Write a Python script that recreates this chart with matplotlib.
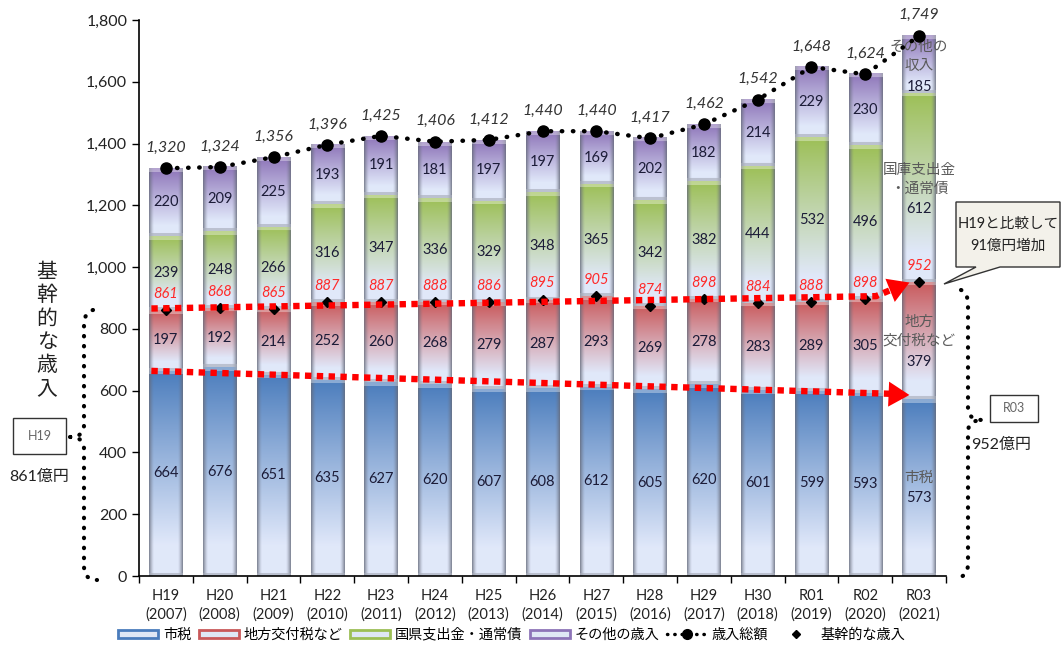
import numpy as np
import matplotlib
matplotlib.use("Agg")
import matplotlib.pyplot as plt
from matplotlib.lines import Line2D
from matplotlib.patches import Patch, Rectangle, Polygon

plt.rcParams['font.family'] = ['Lato', 'Noto Sans CJK JP', 'DejaVu Sans']

# ---- data (億円) ----
eras = ['H19', 'H20', 'H21', 'H22', 'H23', 'H24', 'H25', 'H26', 'H27', 'H28',
        'H29', 'H30', 'R01', 'R02', 'R03']
years = ['2007', '2008', '2009', '2010', '2011', '2012', '2013', '2014', '2015',
         '2016', '2017', '2018', '2019', '2020', '2021']
city_tax = [664, 676, 651, 635, 627, 620, 607, 608, 612, 605, 620, 601, 599, 593, 573]
local_alloc = [197, 192, 214, 252, 260, 268, 279, 287, 293, 269, 278, 283, 289, 305, 379]
subsidies = [239, 248, 266, 316, 347, 336, 329, 348, 365, 342, 382, 444, 532, 496, 612]
other_rev = [220, 209, 225, 193, 191, 181, 197, 197, 169, 202, 182, 214, 229, 230, 185]
total_rev = [1320, 1324, 1356, 1396, 1425, 1406, 1412, 1440, 1440, 1417, 1462, 1542,
             1648, 1624, 1749]
core_rev = [861, 868, 865, 887, 887, 888, 886, 895, 905, 874, 898, 884, 888, 898, 952]

series = [city_tax, local_alloc, subsidies, other_rev]
series_names = ['市税', '地方交付税など', '国県支出金・通常債', 'その他の歳入']
base_colors = ['#4a7cbc', '#c9585a', '#9cbf55', '#8d74b8']

W, H, DPI = 1061, 645, 100
fig = plt.figure(figsize=(W / DPI, H / DPI), dpi=DPI)
fig.patch.set_facecolor('white')
ax = fig.add_axes([139 / W, 1 - 576 / H, (946 - 139) / W, (576 - 20) / H])

YMAX = 1800
px_per_unit = 556 / YMAX
bar_w = 0.62
light = np.array([0.88, 0.91, 0.98])
edge_gray = np.array([0.40, 0.42, 0.48])


def segment_image(color, height_px, cols=36):
    rows = max(int(round(height_px)), 3)
    base = np.array(matplotlib.colors.to_rgb(color))
    t = np.linspace(0, 1, rows)[:, None, None]
    f = np.clip(t / 0.85, 0, 1) ** 0.95
    img = base[None, None, :] * (1 - f) + light[None, None, :] * f
    img = np.repeat(img, cols, axis=1)
    x = np.linspace(0, 1, cols)
    d = np.minimum(x, 1 - x)
    e = (np.clip(1 - d / 0.14, 0, 1) ** 1.4)[None, :, None] * 0.75
    img = img * (1 - e) + edge_gray[None, None, :] * e
    # bevel highlight on top, thin separator at bottom
    img[:4] = img[:4] * 0.65 + np.array([1, 1, 1]) * 0.35
    img[-3:] = img[-3:] * 0.35 + np.array([0.66, 0.68, 0.73]) * 0.65
    return np.clip(img, 0, 1)


n = len(eras)
xs = np.arange(n)
bottoms = np.zeros(n)
for vals, col in zip(series, base_colors):
    for i in range(n):
        b, v = bottoms[i], vals[i]
        img = segment_image(col, v * px_per_unit)
        ax.imshow(img, extent=[i - bar_w / 2, i + bar_w / 2, b, b + v],
                  aspect='auto', interpolation='bilinear', zorder=2)
    bottoms += np.array(vals)

# value labels inside segments
label_kw = dict(ha='center', va='center', fontsize=10.5, color='#1c1c38', zorder=5)
bottoms = np.zeros(n)
for vals in series:
    for i in range(n - 1):
        ax.text(i, bottoms[i] + vals[i] / 2, f'{vals[i]}', **label_kw)
    bottoms += np.array(vals)

# last bar: category captions with values
cap_kw = dict(ha='center', va='center', fontsize=10.5, color='#5a5a5a', zorder=6)
last = n - 1
ax.text(last, 1712, 'その他の', **cap_kw)
ax.text(last, 1650, '収入', **cap_kw)
ax.text(last, 1584, f'{other_rev[last]}', **label_kw)
ax.text(last, 1314, '国庫支出金', **cap_kw)
ax.text(last, 1252, '・通常債', **cap_kw)
ax.text(last, 1188, f'{subsidies[last]}', **label_kw)
ax.text(last, 822, '地方', **cap_kw)
ax.text(last, 762, '交付税など', **cap_kw)
ax.text(last, 694, f'{local_alloc[last]}', **label_kw)
ax.text(last, 318, '市税', **cap_kw)
ax.text(last, 254, f'{city_tax[last]}', **label_kw)

# total revenue line
ax.plot(xs, total_rev, color='black', lw=3.2, ls=(0, (0.1, 2.4)),
        dash_capstyle='round', zorder=6)
ax.plot(xs, total_rev, 'o', color='black', ms=8, zorder=7)
for i, v in enumerate(total_rev):
    ax.text(i, v + 66, f'{v:,}', ha='center', va='center', fontsize=11.5,
            style='italic', color='#333333', zorder=7)

# core revenue markers and labels
ax.plot(xs, core_rev, 'D', color='black', ms=5, zorder=7)
for i, v in enumerate(core_rev):
    ax.text(i, v + 52, f'{v}', ha='center', va='center', fontsize=10.5,
            style='italic', color='#ff2a2a', zorder=7)

# red trend arrows
red_kw = dict(color='#ff0000', lw=4.6, ls=(0, (1.0, 0.85)), dash_capstyle='butt',
              zorder=8, solid_capstyle='butt')
head = dict(arrowstyle='-|>,head_length=0.75,head_width=0.45', color='#ff0000',
            lw=0, mutation_scale=20, shrinkA=0, shrinkB=0)
ax.plot([-0.27, 13.2, 13.5], [866, 906, 928], **red_kw)
ax.annotate('', xy=(13.82, 950), xytext=(13.45, 924), arrowprops=head, zorder=9)
ax.plot([-0.27, 13.45], [664, 590], **red_kw)
ax.annotate('', xy=(13.82, 586), xytext=(13.4, 589), arrowprops=head, zorder=9)

# axes styling
ax.set_xlim(-0.5, n - 0.5)
ax.set_ylim(0, YMAX)
ax.set_yticks(np.arange(0, YMAX + 1, 200))
ax.set_yticklabels([f'{v:,}' for v in range(0, YMAX + 1, 200)], fontsize=11.5,
                   color='#222222')
ax.set_xticks(xs)
ax.set_xticklabels([f'{e}\n({y})' for e, y in zip(eras, years)], fontsize=10.5,
                   color='#222222', linespacing=1.45)
ax.set_xticks(np.arange(-0.5, n, 1.0), minor=True)
ax.tick_params(axis='x', which='major', length=0, pad=9)
ax.tick_params(axis='x', which='minor', length=5, width=1, direction='out')
ax.tick_params(axis='y', length=5, width=1, direction='out')
for s in ['top', 'right']:
    ax.spines[s].set_visible(False)
for s in ['left', 'bottom']:
    ax.spines[s].set_linewidth(1.2)
    ax.spines[s].set_color('black')

# legend
handles = [Patch(facecolor='#dfe7f5', edgecolor=c, lw=2) for c in base_colors]
handles += [Line2D([], [], color='black', lw=2.5, ls=(0, (0.1, 2)),
                   dash_capstyle='round', marker='o', ms=7),
            Line2D([], [], color='black', ls='none', marker='D', ms=4.5)]
labels = series_names + ['歳入総額', '基幹的な歳入']
fig.legend(handles, labels, loc='center', bbox_to_anchor=(512 / W, 1 - 634 / H),
           ncol=6, frameon=False, fontsize=10.2, handlelength=2.8, handleheight=0.55,
           handletextpad=0.35, columnspacing=0.55, numpoints=1)

# annotations around the plot area (pixel coordinates)
ov = fig.add_axes([0, 0, 1, 1], zorder=5)
ov.set_xlim(0, W)
ov.set_ylim(H, 0)
ov.set_axis_off()
ov.patch.set_alpha(0)


def quad(p0, c, p1, k=20):
    t = np.linspace(0, 1, k)[:, None]
    p0, c, p1 = map(np.array, (p0, c, p1))
    return (1 - t) ** 2 * p0 + 2 * (1 - t) * t * c + t ** 2 * p1


def brace(top, x, tip, bottom, tip_y):
    pts = [quad(top, (x, top[1] + 2), (x, top[1] + 16)),
           np.array([[x, top[1] + 16], [x, tip_y - 12]]),
           quad((x, tip_y - 12), (x, tip_y), tip),
           quad(tip, (x, tip_y), (x, tip_y + 12)),
           np.array([[x, tip_y + 12], [x, bottom[1] - 14]]),
           quad((x, bottom[1] - 14), (x, bottom[1]), bottom)]
    return np.vstack(pts)


dot_kw = dict(color='black', lw=3.0, ls=(0, (0.1, 2.3)), dash_capstyle='round')
lb = brace((93, 310), 84, (70, 437), (97, 580), 437)
ov.plot(lb[:, 0], lb[:, 1], **dot_kw)
rb = brace((961, 290), 968, (983, 420), (958, 577), 420)
ov.plot(rb[:, 0], rb[:, 1], **dot_kw)

for i, ch in enumerate('基幹的な歳入'):
    ov.text(47, 272 + i * 23.2, ch, ha='center', va='center', fontsize=15,
            color='#222222')

ov.add_patch(Rectangle((13, 418), 53, 36, fill=False, ec='#333333', lw=1))
ov.text(39.5, 436, 'H19', ha='center', va='center', fontsize=9, color='#666666')
ov.text(39, 477, '861億円', ha='center', va='center', fontsize=11.5, color='#222222')
ov.add_patch(Rectangle((990, 395), 48, 27, fill=False, ec='#333333', lw=1))
ov.text(1014, 408.5, 'R03', ha='center', va='center', fontsize=9, color='#666666')
ov.text(1001, 445, '952億円', ha='center', va='center', fontsize=11.5, color='#222222')

callout = Polygon([(956, 202), (1060, 202), (1060, 267), (1000, 267), (944, 284),
                   (976, 267), (956, 267)], closed=True, fc='#f3f1ea', ec='#333333',
                  lw=1)
ov.add_patch(callout)
ov.text(1008, 224, 'H19と比較して', ha='center', va='center', fontsize=10.5,
        color='#222222')
ov.text(1008, 246, '91億円増加', ha='center', va='center', fontsize=10.5,
        color='#222222')

fig.savefig('out.png', dpi=DPI, facecolor='white')
